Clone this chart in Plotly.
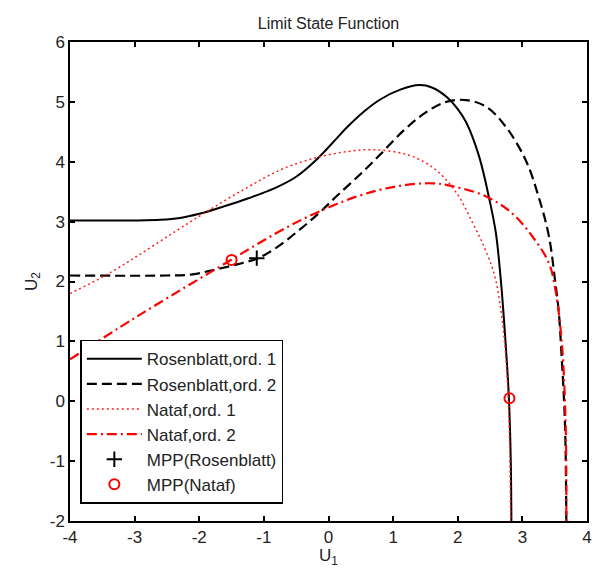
import plotly.graph_objects as go

# ---- data ----
ros1_x = [-4, -3.0, -2.6, -2.3, -2.0, -1.6, -1.24, -0.83, -0.5, -0.22, 0.05, 0.29, 0.55, 0.8, 1.1, 1.41, 1.6, 1.82, 2.0, 2.13, 2.33, 2.49, 2.59, 2.67, 2.74, 2.79, 2.82, 2.83]
ros1_y = [3.02, 3.02, 3.03, 3.06, 3.13, 3.26, 3.39, 3.56, 3.75, 4.0, 4.3, 4.58, 4.84, 5.04, 5.2, 5.28, 5.24, 5.09, 4.88, 4.66, 4.09, 3.37, 2.81, 1.98, 0.98, 0.09, -0.97, -2]

ros2_x = [-4, -2.5, -2.1, -1.75, -1.4, -1.09, -0.8, -0.475, -0.15, 0.14, 0.5, 0.8, 1.16, 1.5, 1.82, 2.13, 2.44, 2.74, 3.05, 3.25, 3.41, 3.51, 3.56, 3.61, 3.66, 3.68]
ros2_y = [2.1, 2.1, 2.12, 2.2, 2.29, 2.39, 2.57, 2.84, 3.14, 3.44, 3.8, 4.12, 4.52, 4.82, 5.0, 5.03, 4.92, 4.59, 4.03, 3.42, 2.76, 1.98, 1.53, 0.7, -0.41, -2]

nat1_x = [-4, -3.39, -2.0, -1.29, -0.73, -0.22, 0.29, 0.7, 1.21, 1.62, 1.98, 2.23, 2.42, 2.57, 2.67, 2.74, 2.79, 2.82]
nat1_y = [1.8, 2.14, 3.09, 3.55, 3.87, 4.06, 4.17, 4.2, 4.12, 3.9, 3.48, 2.98, 2.55, 2.1, 1.5, 0.8, -0.2, -2]

nat2_x = [-4, -3.03, -1.85, -0.475, 0.44, 1.06, 1.6, 1.93, 2.44, 2.84, 3.15, 3.41, 3.51, 3.61, 3.67, 3.68]
nat2_y = [0.7, 1.37, 2.14, 3.0, 3.42, 3.59, 3.64, 3.59, 3.42, 3.14, 2.76, 2.31, 1.87, 0.98, -0.41, -2]

mpp_ros_x = [-1.11]
mpp_ros_y = [2.39]

mpp_nat_x = [-1.5, 2.8]
mpp_nat_y = [2.36, 0.05]

x_ticks = [-4, -3, -2, -1, 0, 1, 2, 3, 4]
y_ticks = [-2, -1, 0, 1, 2, 3, 4, 5, 6]

FONT = "Liberation Sans, Arial, Helvetica, sans-serif"
TXT = "#222"

fig = go.Figure()
fig.add_trace(go.Scatter(x=ros1_x, y=ros1_y, mode="lines", name="Rosenblatt,ord. 1",
                         line=dict(color="black", width=2, shape="spline", smoothing=1)))
fig.add_trace(go.Scatter(x=ros2_x, y=ros2_y, mode="lines", name="Rosenblatt,ord. 2",
                         line=dict(color="black", width=2.2, dash="10px,5px", shape="spline", smoothing=1)))
fig.add_trace(go.Scatter(x=nat1_x, y=nat1_y, mode="lines", name="Nataf,ord. 1",
                         line=dict(color="#ff2020", width=1.5, dash="2px,3px", shape="spline", smoothing=1)))
fig.add_trace(go.Scatter(x=nat2_x, y=nat2_y, mode="lines", name="Nataf,ord. 2",
                         line=dict(color="#ff0000", width=2.2, dash="10px,4px,2px,4px", shape="spline", smoothing=1)))
fig.add_trace(go.Scatter(x=mpp_ros_x, y=mpp_ros_y, mode="markers", name="MPP(Rosenblatt)",
                         marker=dict(symbol="cross-thin", size=11, color="black",
                                     line=dict(color="black", width=2))))
fig.add_trace(go.Scatter(x=mpp_nat_x, y=mpp_nat_y, mode="markers", name="MPP(Nataf)",
                         marker=dict(symbol="circle-open", size=10, color="#ff0000",
                                     line=dict(color="#ff0000", width=2))))

axis_common = dict(showgrid=False, zeroline=False, showline=True, linecolor="black", linewidth=1.5,
                   mirror="allticks", ticks="inside", ticklen=5, tickwidth=1.5, tickcolor="black",
                   tickfont=dict(family=FONT, size=17, color=TXT))

fig.update_layout(
    width=595, height=568,
    margin=dict(l=70, r=3, t=42, b=46),
    paper_bgcolor="white", plot_bgcolor="white",
    font=dict(family=FONT, size=17, color=TXT),
    title=dict(text="Limit State Function", x=0.5, xref="paper", y=0.958, yref="container",
               xanchor="center", yanchor="middle", font=dict(family=FONT, size=16, color=TXT)),
    xaxis=dict(range=[-4, 4], tickvals=x_ticks, ticktext=[str(v) for v in x_ticks],
               title=dict(text="U<sub>1</sub>", standoff=6, font=dict(family=FONT, size=17)),
               **axis_common),
    yaxis=dict(range=[-2, 6], tickvals=y_ticks, ticktext=[str(v) for v in y_ticks],
               title=dict(text="U<sub>2</sub>", standoff=8, font=dict(family=FONT, size=17)),
               **axis_common),
    legend=dict(x=0.02, y=0.036, xanchor="left", yanchor="bottom",
                bgcolor="white", bordercolor="black", borderwidth=1.5, itemwidth=55,
                font=dict(family=FONT, size=17, color=TXT), tracegroupgap=0),
    showlegend=True,
)

fig.write_html("out.html")
